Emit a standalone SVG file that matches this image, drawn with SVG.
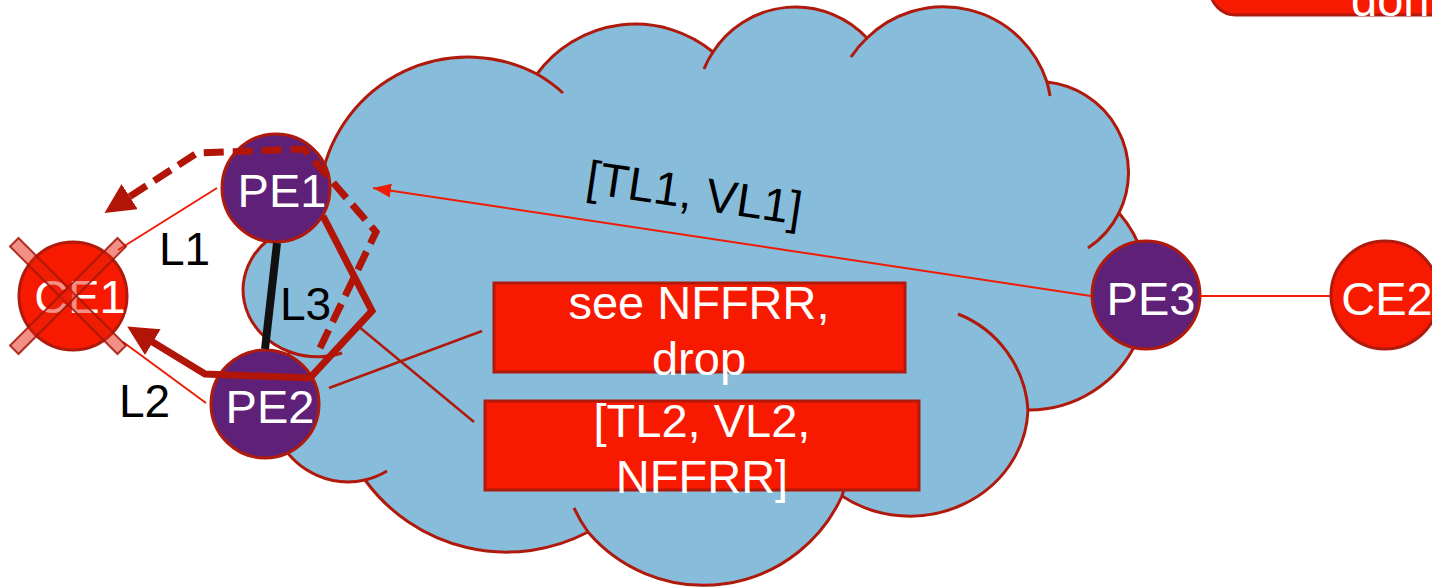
<svg xmlns="http://www.w3.org/2000/svg" width="1432" height="588" viewBox="0 0 1432 588">
<defs>
<style>
.cloud{fill:#88bcdb;stroke:#b01a0c;stroke-width:3}
.tail{fill:none;stroke:#b01a0c;stroke-width:3}
.pe{fill:#5f2177;stroke:#b01a0c;stroke-width:3}
.ce{fill:#f81a00;stroke:#b01a0c;stroke-width:3}
.box{fill:#f81a00;stroke:#b01a0c;stroke-width:3}
.wt{font-family:"Liberation Sans",Arial,sans-serif;font-size:47px;fill:#fff;text-anchor:middle}
.bt{font-family:"Liberation Sans",Arial,sans-serif;font-size:46px;fill:#000}
.thin{fill:none;stroke:#ee1c06;stroke-width:2}
.dk{fill:none;stroke:#b01a0c;stroke-width:2.5}
.thick{fill:none;stroke:#b01508;stroke-width:7;stroke-linejoin:miter}
.dash{stroke-dasharray:20 9}
.xbar{fill:#e8200a;fill-opacity:0.5;stroke:#a01508;stroke-opacity:0.85;stroke-width:2}
</style>
<marker id="ah" markerUnits="userSpaceOnUse" markerWidth="18" markerHeight="14" refX="18" refY="7" orient="auto"><path d="M0,0 L18,7 L0,14 z" fill="#ee1c06"/></marker>
<marker id="ahb" markerUnits="userSpaceOnUse" markerWidth="30" markerHeight="30" refX="8" refY="15" orient="auto"><path d="M0,0 L30,15 L0,30 z" fill="#b01508"/></marker>
</defs>

<g id="cloud">
<path class="cloud" d="M322,176 A149,149 0 0 1 537,74 A122,122 0 0 1 713,52 A98,98 0 0 1 867,38 A109,109 0 0 1 1047,82 A91,91 0 0 1 1119,213 A119,119 0 0 1 1028,410 A118,110 0 0 1 842,496 A152,152 0 0 1 588,532 A175,175 0 0 1 365,480 A78,78 0 0 1 290,352 A75,67 0 0 1 268,240 Z"/>
<path class="tail" d="M537,74 A149,149 0 0 1 563,93 M713,52 A98,98 0 0 0 704,69 M867,38 A109,109 0 0 0 851,57 M1047,82 A109,109 0 0 1 1050,96 M1119,213 A91,91 0 0 1 1088,248 M1028,410 A111,111 0 0 0 958,314 M842,496 A152,152 0 0 0 845,485 M588,532 A152,152 0 0 1 574,508 M365,480 A78,78 0 0 0 387,471 M290,352 A75,67 0 0 0 342,353"/>
</g>

<g id="corner-box">
<rect class="box" x="1210" y="-40" width="260" height="55" rx="26"/>
<text class="wt" x="1351" y="16" style="text-anchor:start">don</text>
</g>

<g id="box-nffrr-drop">
<rect class="box" x="494" y="283" width="411" height="89"/>
<text class="wt" x="699" y="319">see NFFRR,</text>
<text class="wt" x="699" y="375">drop</text>
</g>

<g id="box-tl2">
<rect class="box" x="485" y="401" width="434" height="89"/>
<text class="wt" x="702" y="437">[TL2, VL2,</text>
<text class="wt" x="702" y="493">NFFRR]</text>
</g>

<g id="PE1">
<circle class="pe" cx="276" cy="188" r="54"/>
<text class="wt" x="282" y="207">PE1</text>
</g>
<g id="PE2">
<circle class="pe" cx="265" cy="404" r="54"/>
<text class="wt" x="270" y="423">PE2</text>
</g>
<g id="PE3">
<circle class="pe" cx="1146" cy="295" r="54"/>
<text class="wt" x="1151" y="315">PE3</text>
</g>
<g id="CE2">
<circle class="ce" cx="1385" cy="295" r="54"/>
<text class="wt" x="1387" y="315">CE2</text>
</g>

<g id="connectors">
<line class="thin" x1="217" y1="188" x2="118" y2="250"/>
<line class="thin" x1="206" y1="403" x2="123" y2="342"/>
<line x1="277" y1="243" x2="265" y2="349" stroke="#111" stroke-width="8"/>
<line class="thin" x1="1091" y1="296" x2="373" y2="188" marker-end="url(#ah)"/>
<line class="thin" x1="1200" y1="296" x2="1330" y2="296"/>
<line class="dk" x1="329" y1="388" x2="482" y2="331"/>
<line class="dk" x1="358" y1="326" x2="474" y2="422"/>
<path class="thick" d="M323,216 L372,311 L310,378 L205,374 L146,338" marker-end="url(#ahb)"/>
<path class="thick dash" d="M320,348 L376,232 L304,149 L197,153 L123,201" marker-end="url(#ahb)"/>
<text class="bt" x="159" y="265">L1</text>
<text class="bt" x="119" y="417">L2</text>
<text class="bt" x="280" y="320">L3</text>
<text class="bt" transform="translate(694,196) rotate(8.5)" y="13" text-anchor="middle" style="font-size:47px">[TL1, VL1]</text>
</g>

<g id="CE1">
<circle class="ce" cx="73" cy="296" r="54"/>
<text class="wt" x="80" y="313">CE1</text>
<rect class="xbar" x="-76" y="-6" width="152" height="12" transform="translate(68,296) rotate(45)"/>
<rect class="xbar" x="-76" y="-6" width="152" height="12" transform="translate(68,296) rotate(-45)"/>
</g>
</svg>
